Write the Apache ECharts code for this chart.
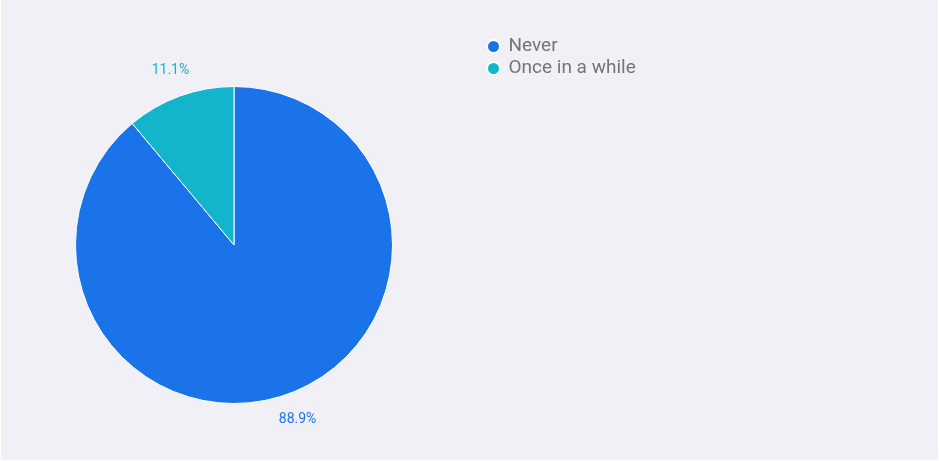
<!DOCTYPE html>
<html>
<head>
<meta charset="utf-8">
<script src="https://cdn.jsdelivr.net/npm/echarts@6/dist/echarts.min.js"></script>
<style>
  html, body { margin: 0; padding: 0; background: #ffffff; }
  #chart { position: absolute; left: 1px; top: 0; width: 937px; height: 460px; }
</style>
</head>
<body>
<div id="chart"></div>
<script>
// answer categories and shares (%)
const categories = ['Never', 'Once in a while']
const values = [88.9, 11.1]
const colors = ['#1a73e8', '#12b5cb']

const chart = echarts.init(document.getElementById('chart'))

const pieData = categories.map((name, i) => ({
  name,
  value: values[i],
  itemStyle: {color: colors[i]},
  label: {color: colors[i]},
}))

const options = {
  backgroundColor: '#f1f0f6',
  animation: false,
  legend: {
    orient: 'vertical',
    left: 480,
    top: 32,
    icon: 'circle',
    symbolKeepAspect: true,
    itemWidth: 20,
    itemHeight: 13,
    itemGap: 3,
    textStyle: {
      fontFamily: 'Roboto',
      fontSize: 19,
      color: '#757575',
    },
    data: categories,
  },
  series: [
    {
      // the pie itself
      type: 'pie',
      center: [233, 245],
      radius: 158.5,
      startAngle: 90,
      clockwise: true,
      itemStyle: {borderColor: '#ffffff', borderWidth: 1},
      label: {show: false},
      labelLine: {show: false},
      data: pieData,
    },
    {
      // transparent ring only used to place the percent labels
      type: 'pie',
      center: [233, 245],
      radius: [172, 194],
      startAngle: 90,
      clockwise: true,
      silent: true,
      itemStyle: {color: 'transparent'},
      label: {
        show: true,
        position: 'inside',
        fontFamily: 'Roboto',
        fontSize: 14,
        formatter: p => p.value.toFixed(1) + '%',
      },
      labelLine: {show: false},
      data: pieData.map(d => ({...d, itemStyle: {color: 'transparent'}})),
    },
  ],
}

chart.setOption(options)
</script>
</body>
</html>
